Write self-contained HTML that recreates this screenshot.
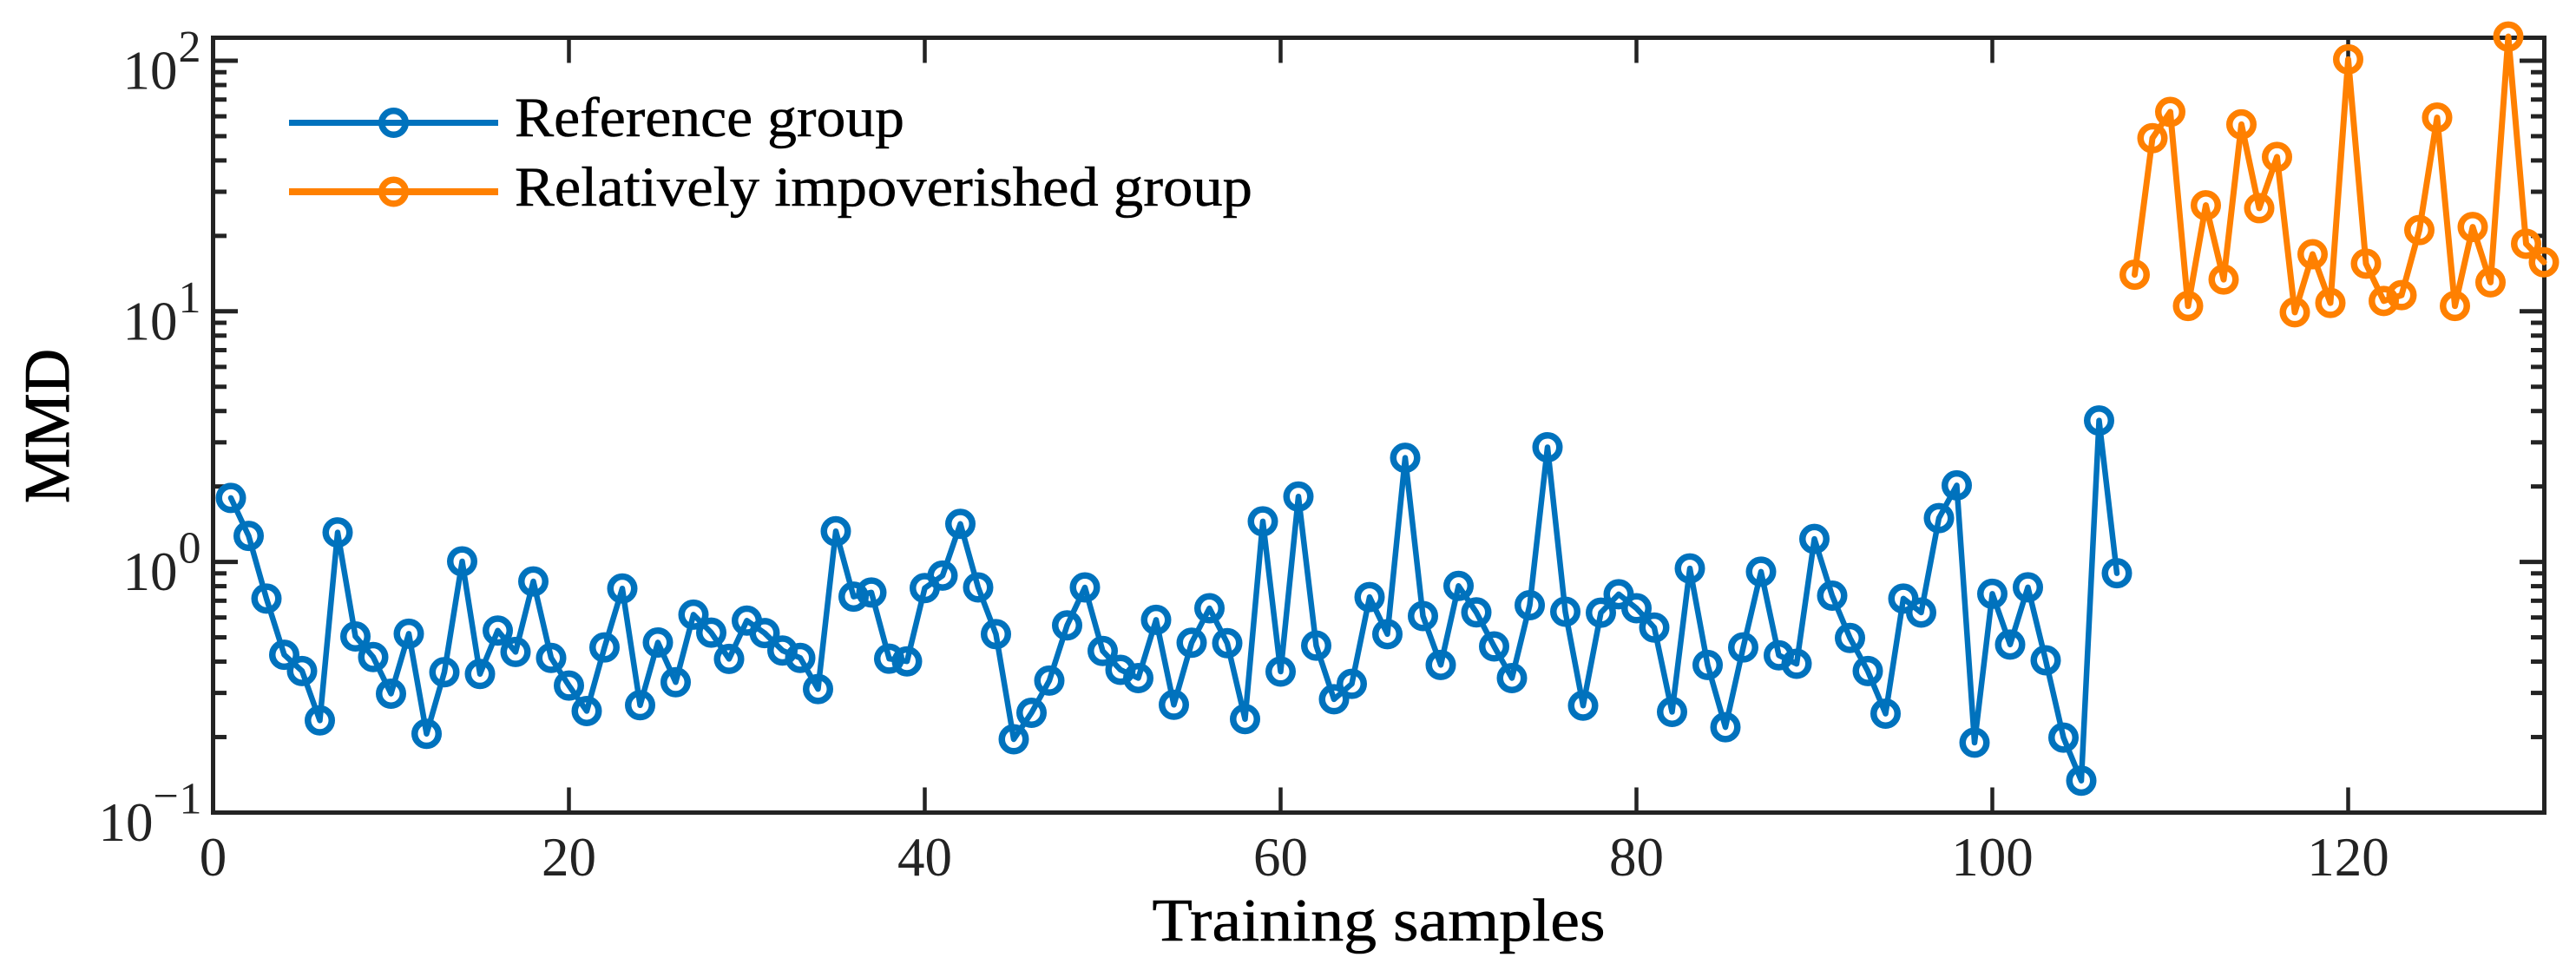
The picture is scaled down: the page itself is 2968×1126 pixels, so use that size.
<!DOCTYPE html>
<html lang="en">
<head>
<meta charset="utf-8">
<title>MMD of training samples</title>
<style>
  html, body { margin: 0; padding: 0; background: #ffffff; }
  svg { display: block; }
  text { font-family: "Liberation Serif", serif; }
</style>
</head>
<body>
<svg id="chart" xmlns="http://www.w3.org/2000/svg" width="2968" height="1126" viewBox="0 0 2968 1126">
  <rect x="0" y="0" width="2968" height="1126" fill="#ffffff"/>
  <g id="ticks"></g>
  <g id="tick-labels"></g>
  <rect x="245.5" y="43.5" width="2686" height="893" fill="none" stroke="#232323" stroke-width="5"/>
  <g id="series"></g>
  <text x="1327.5" y="1084" font-size="70" fill="#000" stroke="#000" stroke-width="0.6" textLength="522" lengthAdjust="spacingAndGlyphs">Training samples</text>
  <text transform="translate(79 580) rotate(-90)" x="0" y="0" font-size="74" fill="#000" stroke="#000" stroke-width="1" textLength="178" lengthAdjust="spacingAndGlyphs">MMD</text>
  <g>
    <g>
      <line x1="333" y1="141.5" x2="574" y2="141.5" stroke="#0072BD" stroke-width="7"/>
      <circle cx="453.5" cy="141.5" r="13.75" fill="none" stroke="#0072BD" stroke-width="7.5"/>
      <text x="593" y="157" font-size="65" fill="#000" stroke="#000" stroke-width="0.5" textLength="449" lengthAdjust="spacingAndGlyphs">Reference group</text>
    </g>
    <g>
      <line x1="333" y1="221" x2="574" y2="221" stroke="#FF8000" stroke-width="8"/>
      <circle cx="453.5" cy="221" r="13.75" fill="none" stroke="#FF8000" stroke-width="7.5"/>
      <text x="593" y="237" font-size="65" fill="#000" stroke="#000" stroke-width="0.5" textLength="850" lengthAdjust="spacingAndGlyphs">Relatively impoverished group</text>
    </g>
  </g>
</svg>
<script>
const xTickValues = [0, 20, 40, 60, 80, 100, 120];
const yDecadeExponents = [-1, 0, 1, 2];
const yMinorMultipliers = [2, 3, 4, 5, 6, 7, 8, 9];
const firstReferenceSample = 1;
const firstImpoverishedSample = 108;
const referenceValues = [
  1.80, 1.27, 0.714, 0.426, 0.367, 0.233, 1.311, 0.504, 0.417, 0.298,
  0.517, 0.206, 0.363, 1.005, 0.357, 0.532, 0.437, 0.836, 0.414, 0.321,
  0.254, 0.456, 0.783, 0.268, 0.477, 0.331, 0.616, 0.522, 0.410, 0.583,
  0.520, 0.443, 0.414, 0.311, 1.326, 0.727, 0.755, 0.411, 0.401, 0.786,
  0.882, 1.418, 0.791, 0.515, 0.196, 0.250, 0.336, 0.558, 0.791, 0.441,
  0.371, 0.344, 0.587, 0.269, 0.476, 0.653, 0.474, 0.236, 1.451, 0.365,
  1.824, 0.463, 0.283, 0.326, 0.724, 0.515, 2.602, 0.608, 0.388, 0.802,
  0.629, 0.460, 0.344, 0.672, 2.868, 0.633, 0.267, 0.627, 0.743, 0.653,
  0.547, 0.252, 0.942, 0.388, 0.219, 0.456, 0.914, 0.424, 0.392, 1.235,
  0.733, 0.497, 0.367, 0.248, 0.714, 0.628, 1.496, 2.02, 0.190, 0.746,
  0.468, 0.792, 0.405, 0.199, 0.134, 3.667, 0.901
];
const impoverishedValues = [
  14.0, 49.1, 62.5, 10.5, 26.5, 13.4, 55.7, 25.8, 41.3, 9.91,
  16.9, 10.8, 101.3, 15.5, 11.0, 11.6, 21.1, 59.3, 10.5, 21.7,
  13.05, 124.9, 18.6, 15.7
];

const X_LEFT = 245.5, X_PER_UNIT = 20.5;
const Y_AT_MIN_DECADE = 936.4, PX_PER_DECADE = 288.8, MIN_EXP = -1;
const PLOT_TOP = 43.5, PLOT_BOTTOM = 936.5, PLOT_RIGHT = 2931.5;
const SVG_NS = 'http://www.w3.org/2000/svg';
const AXIS_COLOR = '#232323';

function xScale(v) { return X_LEFT + v * X_PER_UNIT; }
function yScale(v) { return Y_AT_MIN_DECADE - (Math.log10(v) - MIN_EXP) * PX_PER_DECADE; }

function make(tag, attrs, parent) {
  const el = document.createElementNS(SVG_NS, tag);
  for (const k in attrs) el.setAttribute(k, attrs[k]);
  parent.appendChild(el);
  return el;
}

const ticksGroup = document.getElementById('ticks');
const labelsGroup = document.getElementById('tick-labels');
const seriesGroup = document.getElementById('series');

function addTick(x1, y1, x2, y2, width, name) {
  const t = make('line', { x1: x1, y1: y1, x2: x2, y2: y2, stroke: AXIS_COLOR, 'stroke-width': width }, ticksGroup);
  
  
}

function addLabel(str, x, y, size, name, anchor) {
  const t = make('text', { x: x, y: y, 'font-size': size, fill: AXIS_COLOR, 'text-anchor': anchor || 'start' }, labelsGroup);
  t.textContent = str;
  
  
}

xTickValues.forEach(function (v) {
  const x = xScale(v);
  if (v !== 0) {
    addTick(x, PLOT_BOTTOM, x, PLOT_BOTTOM - 29, 4.5, 'x-tick-bottom');
    addTick(x, PLOT_TOP, x, PLOT_TOP + 29, 4.5, 'x-tick-top');
  }
  addLabel(String(v), x, 1009, 63, 'x-tick-label', 'middle');
});

yDecadeExponents.forEach(function (e) {
  const y = yScale(Math.pow(10, e));
  if (e > MIN_EXP) {
    addTick(X_LEFT, y, X_LEFT + 28.5, y, 5, 'y-major-tick-left');
    addTick(PLOT_RIGHT, y, PLOT_RIGHT - 28.5, y, 5, 'y-major-tick-right');
  }
  if (e < 2) {
    yMinorMultipliers.forEach(function (m) {
      const my = yScale(m * Math.pow(10, e));
      addTick(X_LEFT, my, X_LEFT + 15.5, my, 5, 'y-minor-tick-left');
      addTick(PLOT_RIGHT, my, PLOT_RIGHT - 15.5, my, 5, 'y-minor-tick-right');
    });
  }
  const base = y + 32.5;
  const supBase = y + 1;
  if (e < 0) {
    addLabel('10', 113.5, base, 63, 'y-tick-label-base');
    addLabel('\u2212', 176.5, supBase - 3, 52, 'y-tick-label-minus');
    addLabel(String(-e), 206.5, supBase, 52, 'y-tick-label-exponent');
  } else {
    addLabel('10', 141.5, base, 63, 'y-tick-label-base');
    addLabel(String(e), 205.5, supBase, 52, 'y-tick-label-exponent');
  }
});

function drawSeries(values, firstSample, color, lineWidth, name) {
  const group = make('g', {}, seriesGroup);
  
  
  const pts = values.map(function (v, i) { return xScale(firstSample + i) + ',' + yScale(v); }).join(' ');
  const line = make('polyline', { points: pts, fill: 'none', stroke: color, 'stroke-width': lineWidth, 'stroke-linejoin': 'round', 'stroke-linecap': 'round' }, group);
  
  
  values.forEach(function (v, i) {
    const c = make('circle', { cx: xScale(firstSample + i), cy: yScale(v), r: 13.75, fill: 'none', stroke: color, 'stroke-width': 7.5 }, group);
    
    
  });
}

drawSeries(referenceValues, firstReferenceSample, '#0072BD', 6.5, 'reference-group');
drawSeries(impoverishedValues, firstImpoverishedSample, '#FF8000', 7, 'impoverished-group');
</script>
</body>
</html>
